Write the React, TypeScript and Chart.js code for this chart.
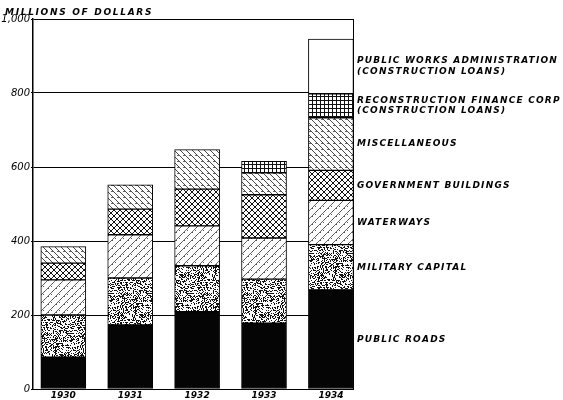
import React, { useEffect, useRef } from 'react';
import { Chart, registerables } from 'chart.js';

Chart.register(...registerables);

const years = ['1930', '1931', '1932', '1933', '1934'];
const publicRoads = [86, 173, 209, 178, 268];
const militaryCapital = [114, 127, 124, 119, 122];
const waterways = [95, 117, 108, 111, 120];
const governmentBuildings = [45, 69, 99, 117, 81];
const miscellaneous = [45, 66, 107, 59, 142];
const reconstructionFinance = [null, null, null, 31, 65];
const publicWorks = [null, null, null, null, 148];
const yTicks = [0, 200, 400, 600, 800, 1000];
const yTitle = 'MILLIONS OF DOLLARS';
const seriesNames = [
  ['PUBLIC ROADS'],
  ['MILITARY CAPITAL'],
  ['WATERWAYS'],
  ['GOVERNMENT BUILDINGS'],
  ['MISCELLANEOUS'],
  ['RECONSTRUCTION FINANCE CORP', '(CONSTRUCTION LOANS)'],
  ['PUBLIC WORKS ADMINISTRATION', '(CONSTRUCTION LOANS)'],
];

const FONT = '"DejaVu Sans", sans-serif';

function hash(i: number, j: number, s: number): number {
  let h = (i * 374761393 + j * 668265263 + s * 1442695041) | 0;
  h = Math.imul(h ^ (h >>> 13), 1274126177);
  h = h ^ (h >>> 16);
  return (h >>> 0) / 4294967296;
}

function makePattern(ctx: CanvasRenderingContext2D, size: number, draw: (g: CanvasRenderingContext2D, s: number) => void) {
  const c = document.createElement('canvas');
  c.width = size;
  c.height = size;
  const g = c.getContext('2d') as CanvasRenderingContext2D;
  g.fillStyle = '#fff';
  g.fillRect(0, 0, size, size);
  draw(g, size);
  return ctx.createPattern(c, 'repeat') as CanvasPattern;
}

function stipple(g: CanvasRenderingContext2D, s: number, density: number, seed: number, color = '#000') {
  g.fillStyle = color;
  for (let i = 0; i < s; i++) {
    for (let j = 0; j < s; j++) {
      if (hash(i, j, seed) < density) g.fillRect(i, j, 1, 1);
    }
  }
}

function forward(g: CanvasRenderingContext2D, s: number, color: string, w: number) {
  g.strokeStyle = color;
  g.lineWidth = w;
  g.beginPath();
  for (let k = -s; k <= s; k += s) {
    g.moveTo(k, s);
    g.lineTo(k + s, 0);
  }
  g.stroke();
}

function backward(g: CanvasRenderingContext2D, s: number, color: string, w: number) {
  g.strokeStyle = color;
  g.lineWidth = w;
  g.beginPath();
  for (let k = -s; k <= s; k += s) {
    g.moveTo(k, 0);
    g.lineTo(k + s, s);
  }
  g.stroke();
}

export default function App() {
  const ref = useRef<HTMLCanvasElement | null>(null);

  useEffect(() => {
    document.body.style.margin = '0';
    const canvas = ref.current as HTMLCanvasElement;
    const ctx = canvas.getContext('2d') as CanvasRenderingContext2D;

    const patRoads = '#050505';
    const patMilitary = makePattern(ctx, 40, (g, s) => stipple(g, s, 0.38, 7, '#111'));
    const patWater = makePattern(ctx, 8, (g, s) => {
      stipple(g, s, 0.07, 3, '#555');
      forward(g, s, '#444', 0.8);
    });
    const patGov = makePattern(ctx, 6, (g, s) => {
      forward(g, s, '#111', 1);
      backward(g, s, '#111', 1);
    });
    const patMisc = makePattern(ctx, 6, (g, s) => {
      stipple(g, s, 0.05, 11, '#666');
      backward(g, s, '#333', 0.9);
    });
    const patRfc = makePattern(ctx, 4, (g, s) => {
      g.fillStyle = '#111';
      g.fillRect(0, 0, s, 1);
      g.fillRect(0, 0, 1, s);
    });
    const patPwa = '#ffffff';

    const series = [publicRoads, militaryCapital, waterways, governmentBuildings, miscellaneous, reconstructionFinance, publicWorks];
    const fills: (string | CanvasPattern)[] = [patRoads, patMilitary, patWater, patGov, patMisc, patRfc, patPwa];

    const datasets = series.map((vals, si) => ({
      label: seriesNames[si].join(' '),
      data: vals.map((v, i) => ({ x: i, y: v })),
      backgroundColor: fills[si],
      borderColor: '#000',
      borderWidth: 1,
      borderSkipped: false as const,
      barThickness: 45,
    }));

    const labelPlugin = {
      id: 'labels',
      afterDraw(chart: any) {
        const c = chart.ctx as CanvasRenderingContext2D;
        const area = chart.chartArea;
        const yScale = chart.scales.y;
        c.save();
        c.strokeStyle = '#000';
        c.lineWidth = 1;
        c.beginPath();
        c.moveTo(Math.round(area.right) + 0.5, area.top);
        c.lineTo(Math.round(area.right) + 0.5, area.bottom);
        c.stroke();

        c.fillStyle = '#000';
        c.font = `italic bold 9px ${FONT}`;
        (c as any).letterSpacing = '1.7px';
        c.textAlign = 'left';
        c.textBaseline = 'alphabetic';
        c.fillText(yTitle, 5, 15);

        const last = years.length - 1;
        let base = 0;
        c.textBaseline = 'middle';
        (c as any).letterSpacing = '1.2px';
        series.forEach((vals, si) => {
          const v = vals[last] ?? 0;
          const y0 = yScale.getPixelForValue(base);
          const y1 = yScale.getPixelForValue(base + v);
          base += v;
          const mid = (y0 + y1) / 2;
          const lines = seriesNames[si];
          const lh = 10.5;
          lines.forEach((t, li) => {
            const y = mid + (li - (lines.length - 1) / 2) * lh;
            c.fillText(t, area.right + 4, y);
          });
        });
        c.restore();
      },
    };

    const chart = new Chart(ctx, {
      type: 'bar',
      data: { datasets: datasets as any },
      options: {
        responsive: false,
        animation: false,
        layout: { padding: { top: 19, right: 210, bottom: 0, left: 0 } },
        plugins: { legend: { display: false }, tooltip: { enabled: false }, title: { display: false } },
        scales: {
          x: {
            type: 'linear',
            stacked: true,
            offset: false,
            min: -0.453,
            max: 4.33,
            grid: { display: false, drawTicks: false, tickLength: 0, offset: false },
            border: { display: true, color: '#000', width: 1 },
            afterBuildTicks: (axis: any) => {
              axis.ticks = years.map((_, i) => ({ value: i }));
            },
            afterFit: (scale: any) => {
              scale.height = 11;
            },
            ticks: {
              autoSkip: false,
              maxRotation: 0,
              padding: 1,
              color: '#000',
              font: { family: FONT, size: 9, style: 'italic', weight: 'bold' },
              callback: (v: any) => years[v as number] ?? '',
            },
          },
          y: {
            stacked: true,
            min: 0,
            max: 1000,
            afterBuildTicks: (axis: any) => {
              axis.ticks = yTicks.map((v) => ({ value: v }));
            },
            afterFit: (scale: any) => {
              scale.width = 33;
            },
            grid: { color: '#000', lineWidth: 1, tickLength: 2, drawTicks: true },
            border: { display: true, color: '#000', width: 1.5 },
            ticks: {
              padding: 1,
              color: '#000',
              font: { family: FONT, size: 10, style: 'italic' },
              callback: (v: any) => Number(v).toLocaleString('en-US'),
            },
          },
        },
      },
      plugins: [labelPlugin],
    });

    return () => chart.destroy();
  }, []);

  return (
    <div style={{ width: 563, height: 400 }}>
      <canvas ref={ref} width={563} height={400} style={{ display: 'block' }} />
    </div>
  );
}
